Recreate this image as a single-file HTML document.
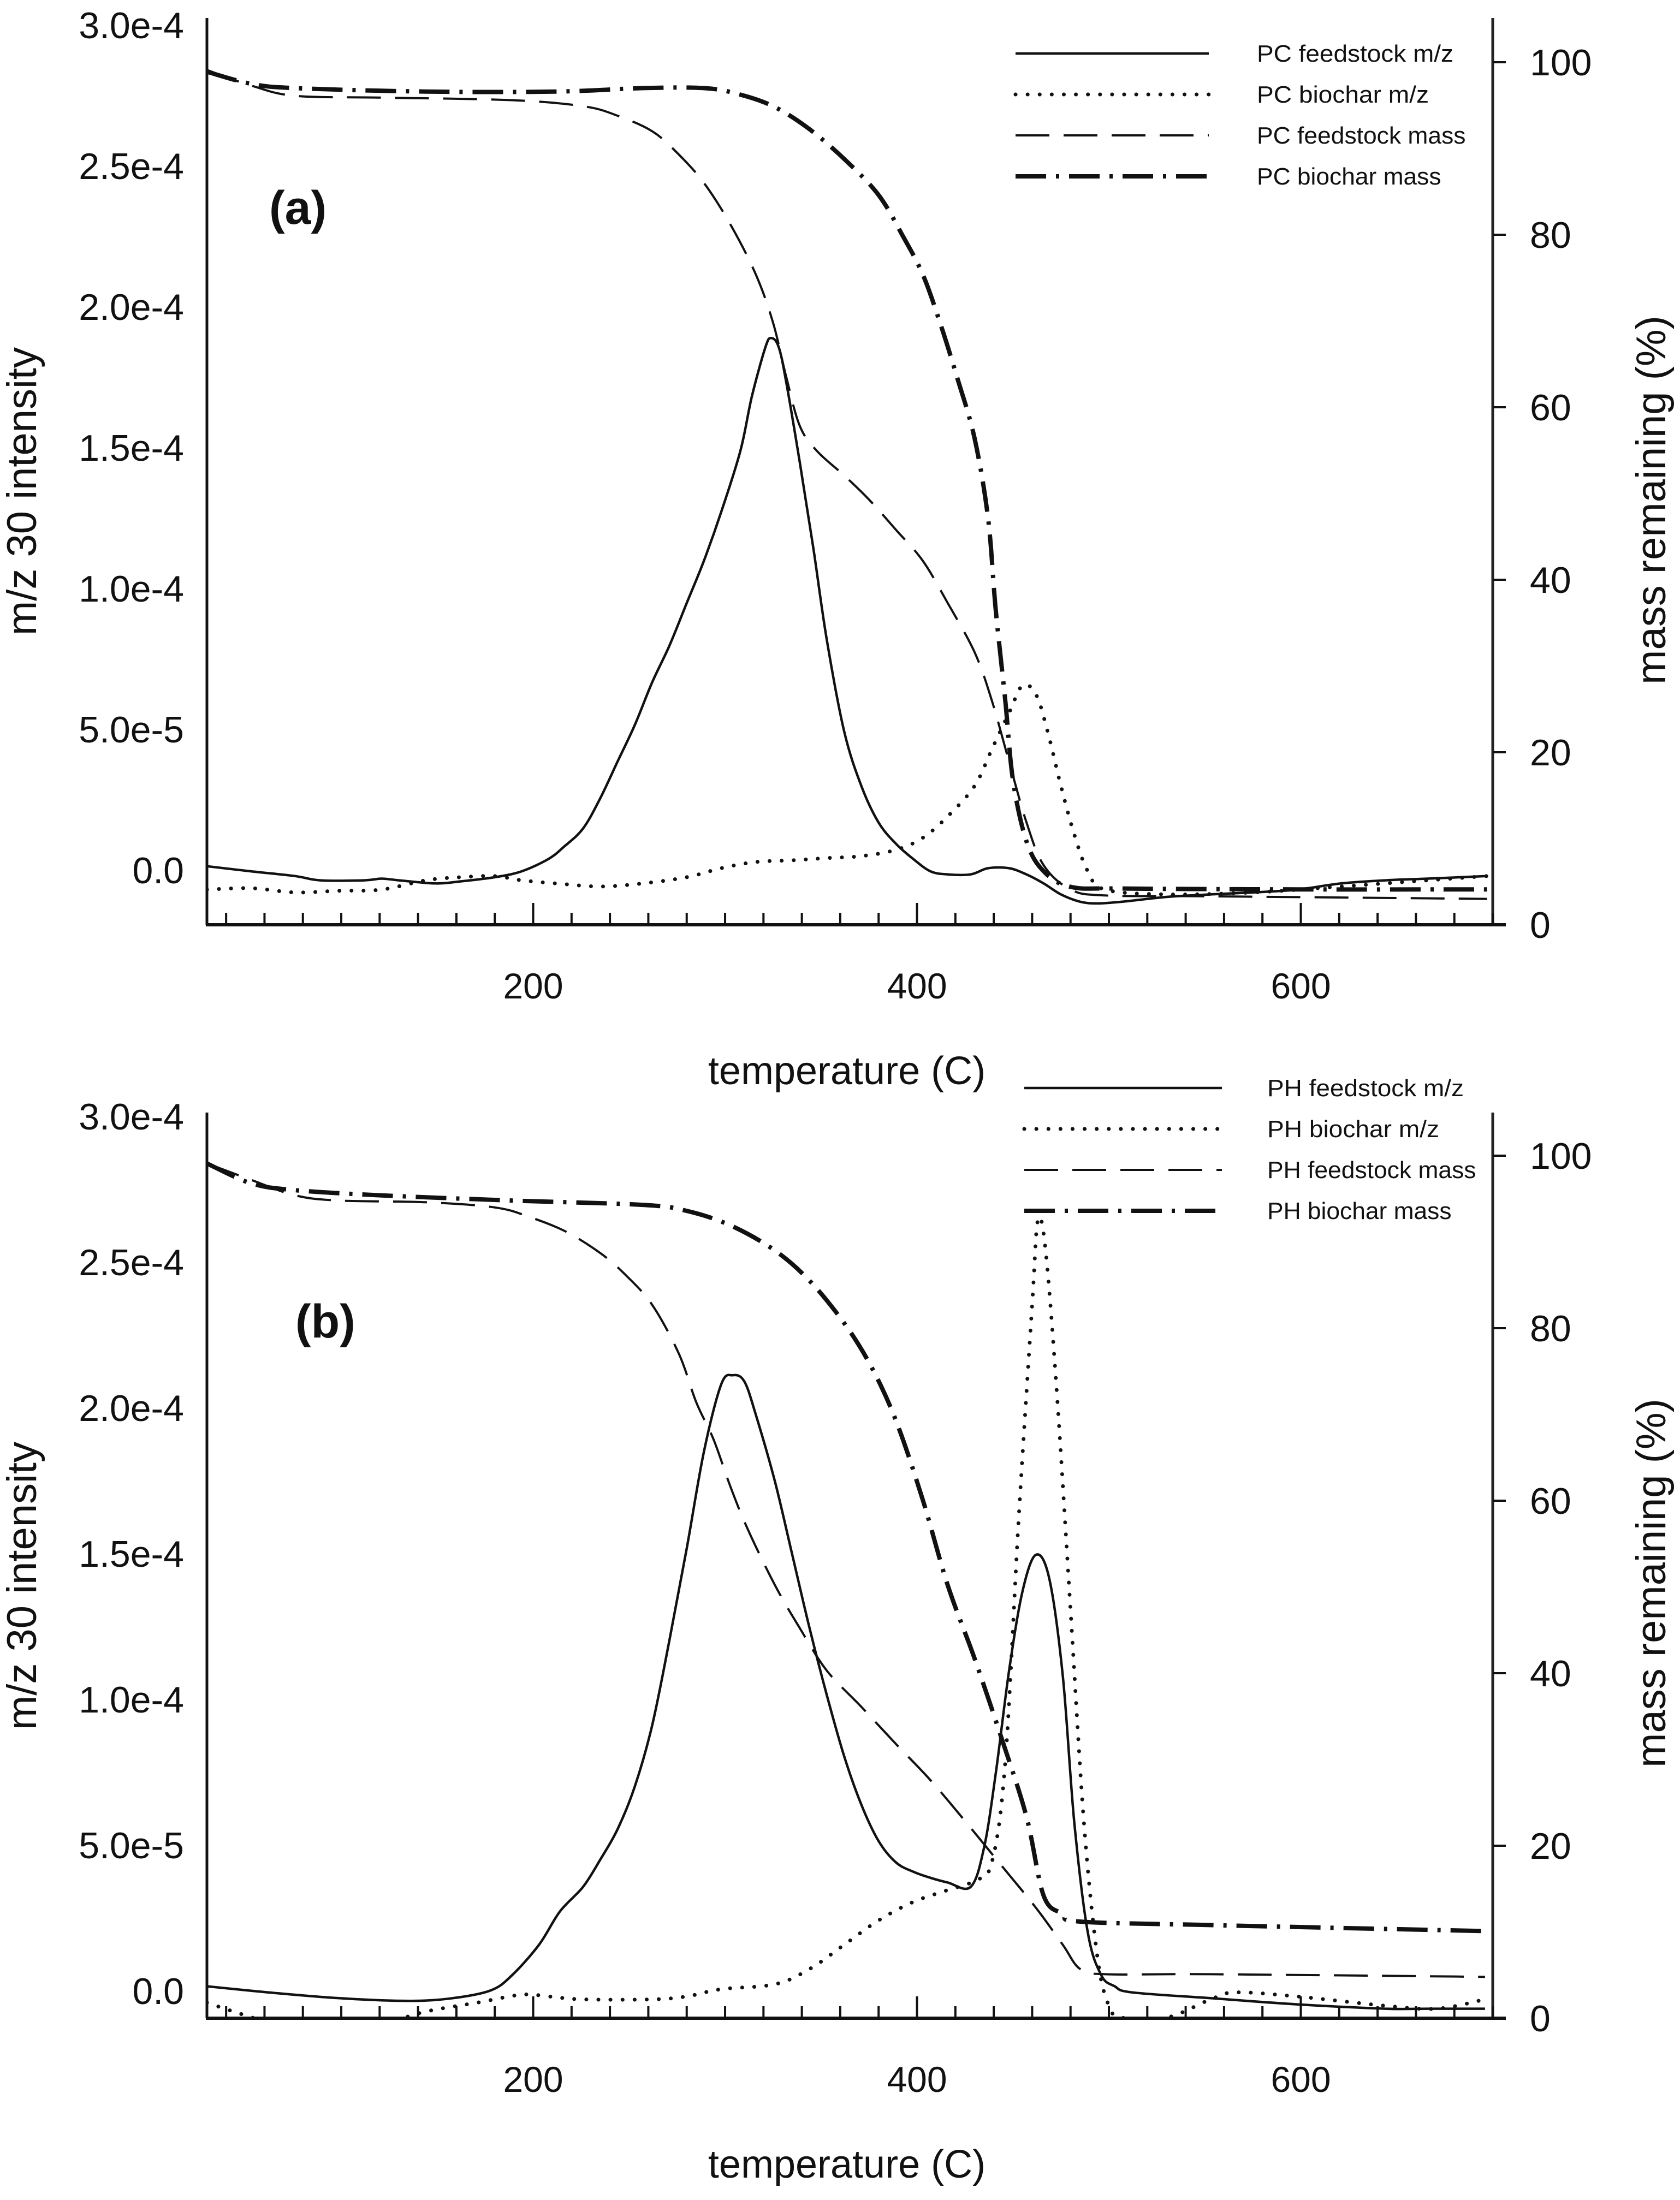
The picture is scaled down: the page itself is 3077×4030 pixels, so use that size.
<!DOCTYPE html>
<html><head><meta charset="utf-8">
<style>
html,body{margin:0;padding:0;background:#fff;}
svg{display:block;}
text{font-family:"Liberation Sans",sans-serif;fill:#111;}
</style></head>
<body>
<svg id="chart" width="3077" height="4030" viewBox="0 0 3077 4030" xmlns="http://www.w3.org/2000/svg">
<defs>
<clipPath id="clipA"><rect x="379" y="33" width="2355" height="1661"/></clipPath>
<clipPath id="clipB"><rect x="379" y="2033" width="2355" height="1664"/></clipPath>
</defs>
</svg>
<script>
// ---- Panel (a) data: PC ----
const aFeedMzT = [30,53,76,89,112,121,130,149,162,180,194,208,216,226,235,244,253,262,271,280,289,298,308,314,321,324,328,332,339,346,353,362,371,380,389,398,407,416,428,437,448,457,466,475,485,494,507,530,553,575,598,621,644,666,697];
const aFeedMzV = [0.14,-0.04,-0.21,-0.36,-0.36,-0.30,-0.36,-0.47,-0.40,-0.25,-0.04,0.40,0.83,1.48,2.56,3.86,5.16,6.67,7.97,9.48,10.99,12.72,14.89,16.83,18.56,18.89,18.56,17.27,14.45,11.43,8.18,4.94,2.99,1.69,0.94,0.40,-0.04,-0.15,-0.15,0.07,0.07,-0.15,-0.47,-0.86,-1.12,-1.18,-1.12,-0.95,-0.86,-0.79,-0.69,-0.47,-0.36,-0.30,-0.21];
const aCharMzT = [30,53,76,99,121,144,162,180,194,212,235,257,280,298,316,335,353,371,389,403,416,430,439,448,455,462,468,475,482,489,498,530,575,621,666,697];
const aCharMzV = [-0.69,-0.64,-0.79,-0.73,-0.69,-0.36,-0.25,-0.21,-0.36,-0.47,-0.58,-0.47,-0.25,0.07,0.29,0.35,0.43,0.50,0.72,1.15,1.91,2.99,4.29,5.59,6.56,6.24,4.94,2.99,1.26,-0.04,-0.69,-0.86,-0.79,-0.58,-0.36,-0.21];
const aFeedMassT = [30,53,76,121,189,226,244,262,275,289,303,316,325,332,339,348,362,375,389,403,416,430,439,448,457,466,480,498,553,697];
const aFeedMassV = [99.1,97.3,96.1,95.9,95.6,94.9,93.8,92.0,89.5,86.0,81.1,75.4,69.8,63.4,57.8,54.9,52.1,49.3,45.8,42.2,37.3,31.6,26.0,18.9,11.9,6.9,4.1,3.4,3.3,3.0];
const aCharMassT = [30,53,76,144,212,257,289,307,325,343,362,380,393,403,412,421,430,437,441,446,450,457,466,480,507,598,697];
const aCharMassV = [98.9,97.5,97.0,96.6,96.6,97.0,97.0,96.3,94.9,92.4,88.8,84.6,79.7,75.4,69.8,63.4,56.4,47.2,36.6,26.0,16.8,9.7,6.2,4.4,4.2,4.1,4.1];

// ---- Panel (b) data: PH ----
const bFeedMzT = [30,62,99,135,158,178,189,203,214,226,235,244,253,262,271,280,289,298,304,310,316,326,335,344,353,362,371,380,389,398,407,416,428,435,441,448,455,462,469,476,482,489,496,503,512,553,598,644,666,696];
const bFeedMzV = [0.16,-0.05,-0.25,-0.34,-0.25,0.02,0.54,1.58,2.73,3.57,4.51,5.55,7.02,9.11,12.03,15.17,18.51,20.81,21.12,20.91,19.77,17.47,14.96,12.45,10.15,8.06,6.39,5.14,4.41,4.09,3.88,3.72,3.57,4.93,7.44,10.99,13.71,14.96,14.12,10.78,5.76,2.00,0.54,0.16,-0.05,-0.25,-0.46,-0.61,-0.61,-0.61];
const bCharMzT = [30,44,62,99,121,144,171,194,208,226,262,280,298,326,344,362,380,398,416,430,439,446,453,460,463,467,473,480,487,494,500,507,530,553,566,598,644,671,696];
const bCharMzV = [-0.40,-0.71,-1.03,-1.24,-1.13,-0.71,-0.40,-0.13,-0.19,-0.29,-0.29,-0.19,0.06,0.23,0.75,1.58,2.42,3.05,3.46,3.78,4.41,7.85,16.21,23.53,26.45,25.41,20.40,13.08,5.76,1.17,-0.51,-0.92,-0.92,-0.29,-0.05,-0.19,-0.51,-0.61,-0.29];
const bFeedMassT = [30,53,76,99,144,180,198,217,235,248,262,276,285,294,303,312,326,339,353,371,389,407,426,444,462,476,485,498,553,696];
const bFeedMassV = [99.1,97.2,95.4,94.8,94.6,94.0,92.9,91.2,88.7,86.2,82.7,77.0,71.4,67.1,61.5,56.6,50.2,45.2,40.3,36.1,31.8,27.6,22.6,17.7,12.8,8.5,5.7,5.1,5.1,4.8];
const bCharMassT = [30,53,76,121,189,257,280,303,326,344,362,376,389,403,416,430,444,457,466,476,485,553,696];
const bCharMassV = [99.1,96.8,96.0,95.4,94.8,94.3,93.6,91.9,89.0,85.5,80.6,75.6,69.3,60.1,50.2,41.7,32.5,23.4,14.2,12.1,11.2,10.8,10.1];

// ---- axis tick labels ----
const leftTicks = [0, 5, 10, 15, 20, 25, 30]; // units of 1e-5
const leftTickLabels = ["0.0","5.0e-5","1.0e-4","1.5e-4","2.0e-4","2.5e-4","3.0e-4"];
const rightTicks = [0,20,40,60,80,100];
const xMajorTicks = [200,400,600];
const legendA = ["PC feedstock m/z","PC biochar m/z","PC feedstock mass","PC biochar mass"];
const legendB = ["PH feedstock m/z","PH biochar m/z","PH feedstock mass","PH biochar mass"];

const NS = "http://www.w3.org/2000/svg";
const svg = document.getElementById("chart");
function mk(tag, attrs, parent){ const e=document.createElementNS(NS,tag); for(const k in attrs) e.setAttribute(k,attrs[k]); (parent||svg).appendChild(e); return e; }

const X0=379, X1=2734, T0=30, T1=700;
function xScale(t){ return X0+(t-T0)*(X1-X0)/(T1-T0); }

function smoothPath(pts){
  let d="M"+pts[0][0].toFixed(1)+","+pts[0][1].toFixed(1);
  for(let i=0;i<pts.length-1;i++){
    const p0=pts[Math.max(0,i-1)],p1=pts[i],p2=pts[i+1],p3=pts[Math.min(pts.length-1,i+2)];
    const c1x=p1[0]+(p2[0]-p0[0])/6, c1y=p1[1]+(p2[1]-p0[1])/6;
    const c2x=p2[0]-(p3[0]-p1[0])/6, c2y=p2[1]-(p3[1]-p1[1])/6;
    d+=" C"+c1x.toFixed(1)+","+c1y.toFixed(1)+" "+c2x.toFixed(1)+","+c2y.toFixed(1)+" "+p2[0].toFixed(1)+","+p2[1].toFixed(1);
  }
  return d;
}

const styles = {
  solid:{"stroke-width":4.5},
  dotted:{"stroke-width":7,"stroke-dasharray":"0.1 22","stroke-linecap":"round"},
  dashed:{"stroke-width":4,"stroke-dasharray":"62 26"},
  dashdot:{"stroke-width":8,"stroke-dasharray":"56 18 6 18"}
};

function panel(cfg){
  const g = mk("g",{});
  
  
  const yL = v => cfg.y0 - v*cfg.leftStep/5;
  const yR = m => cfg.bottom - m*cfg.rightStep/20;
  const la = mk("line",{x1:X0,y1:cfg.top,x2:X0,y2:cfg.bottom,stroke:"#111","stroke-width":5},g);
  
  
  const ra = mk("line",{x1:X1,y1:cfg.top,x2:X1,y2:cfg.bottom,stroke:"#222","stroke-width":5},g);
  
  
  const ba = mk("line",{x1:X0-2,y1:cfg.bottom,x2:2758,y2:cfg.bottom,stroke:"#111","stroke-width":6},g);
  
  
  for(let t=40;t<=700;t+=20){
    const major = xMajorTicks.indexOf(t)>=0;
    const tk = mk("line",{x1:xScale(t),y1:cfg.bottom,x2:xScale(t),y2:cfg.bottom-(major?40:22),stroke:"#111","stroke-width":4},g);
    
    
  }
  xMajorTicks.forEach(t=>{
    const tx = mk("text",{x:xScale(t),y:cfg.bottom+135,"font-size":66,"text-anchor":"middle"},g);
    tx.textContent=String(t);
    
    
  });
  leftTicks.forEach((v,i)=>{
    const tx = mk("text",{x:337,y:yL(v)+24,"font-size":68,"text-anchor":"end"},g);
    tx.textContent=leftTickLabels[i];
    
    
  });
  rightTicks.forEach(m=>{
    const tk = mk("line",{x1:X1,y1:yR(m),x2:2758,y2:yR(m),stroke:"#111","stroke-width":4},g);
    
    
    const tx = mk("text",{x:2802,y:yR(m)+24,"font-size":68},g);
    tx.textContent=String(m);
    
    
  });
  const lt = mk("text",{x:0,y:0,"font-size":76,"text-anchor":"middle",transform:`translate(66,${cfg.leftTitleY}) rotate(-90)`},g);
  lt.textContent="m/z 30 intensity";
  
  
  const rt = mk("text",{x:0,y:0,"font-size":76,"text-anchor":"middle",transform:`translate(3050,${cfg.rightTitleY}) rotate(-90)`},g);
  rt.textContent="mass remaining (%)";
  
  
  const xt = mk("text",{x:1551,y:cfg.bottom+292,"font-size":72,"text-anchor":"middle"},g);
  xt.textContent="temperature (C)";
  
  
  const pl = mk("text",{x:cfg.letterX,y:cfg.letterY,"font-size":86,"font-weight":"bold"},g);
  pl.textContent=cfg.letter;
  
  
  const sg = mk("g",{"clip-path":`url(#${cfg.clip})`},g);
  cfg.series.forEach(s=>{
    const pts = s.t.map((t,i)=>[xScale(t), s.axis==="L"? yL(s.v[i]) : yR(s.v[i])]);
    const attrs = Object.assign({d:smoothPath(pts),fill:"none",stroke:"#111","stroke-linejoin":"round"}, styles[s.style]);
    const p = mk("path",attrs,sg);
    
    
  });
  const lg = mk("g",{},g);
  
  
  const order=["solid","dotted","dashed","dashdot"];
  cfg.legend.forEach((lab,i)=>{
    const y = cfg.legY + i*cfg.legStep;
    const ln = mk("line",Object.assign({x1:cfg.legX1,y1:y,x2:cfg.legX2,y2:y,stroke:"#111"},styles[order[i]]),lg);
    
    
    const tx = mk("text",{x:cfg.legTX,y:y+15,"font-size":44,textLength:lab.length*22.5,lengthAdjust:"spacingAndGlyphs"},lg);
    tx.textContent=lab;
    
    
  });
}

panel({name:"panel-a", clip:"clipA", top:33, bottom:1694, y0:1594, leftStep:258, rightStep:316,
  leftTitleY:900, rightTitleY:916, letter:"(a)", letterX:493, letterY:410,
  legend:legendA, legY:98, legStep:75, legX1:1860, legX2:2214, legTX:2302,
  series:[
    {name:"pc-feedstock-mz-line", t:aFeedMzT, v:aFeedMzV, axis:"L", style:"solid"},
    {name:"pc-biochar-mz-line", t:aCharMzT, v:aCharMzV, axis:"L", style:"dotted"},
    {name:"pc-feedstock-mass-line", t:aFeedMassT, v:aFeedMassV, axis:"R", style:"dashed"},
    {name:"pc-biochar-mass-line", t:aCharMassT, v:aCharMassV, axis:"R", style:"dashdot"}
  ]});
panel({name:"panel-b", clip:"clipB", top:2038, bottom:3697, y0:3647, leftStep:267, rightStep:316,
  leftTitleY:2905, rightTitleY:2900, letter:"(b)", letterX:541, letterY:2450,
  legend:legendB, legY:1993, legStep:75, legX1:1876, legX2:2238, legTX:2321,
  series:[
    {name:"ph-feedstock-mz-line", t:bFeedMzT, v:bFeedMzV, axis:"L", style:"solid"},
    {name:"ph-biochar-mz-line", t:bCharMzT, v:bCharMzV, axis:"L", style:"dotted"},
    {name:"ph-feedstock-mass-line", t:bFeedMassT, v:bFeedMassV, axis:"R", style:"dashed"},
    {name:"ph-biochar-mass-line", t:bCharMassT, v:bCharMassV, axis:"R", style:"dashdot"}
  ]});
</script>
</body></html>
